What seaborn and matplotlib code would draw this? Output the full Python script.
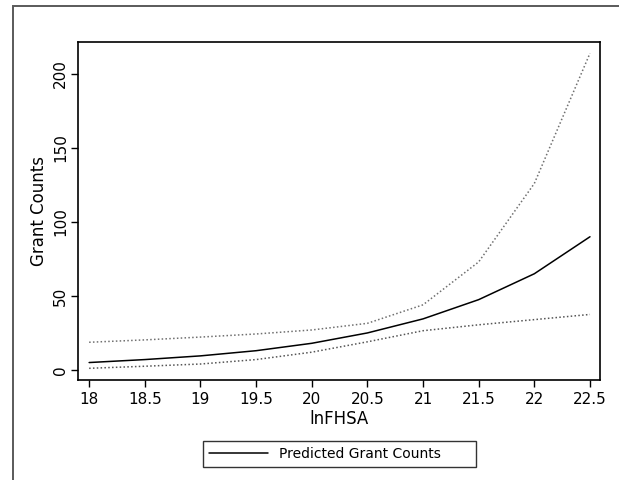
import matplotlib
matplotlib.use("Agg")
import matplotlib.pyplot as plt
import pandas as pd
import seaborn as sns
from matplotlib.lines import Line2D
from matplotlib.patches import Rectangle

# values
ln_fhsa = [18, 18.5, 19, 19.5, 20, 20.5, 21, 21.5, 22, 22.5]
predicted = [5, 7, 9.5, 13, 18, 25, 34.5, 47.5, 65, 90]
upper_ci = [18.7, 20.3, 22.2, 24.3, 27, 31.5, 44, 73, 126, 214]
lower_ci = [1.1, 2.5, 4, 7, 12, 19, 26.5, 30.5, 34, 37.5]

df = pd.DataFrame({"lnFHSA": ln_fhsa, "pred": predicted, "hi": upper_ci, "lo": lower_ci})

sns.set_style("white")
plt.rcParams["font.family"] = ["DejaVu Sans"]
plt.rcParams["text.color"] = "black"
plt.rcParams["axes.labelcolor"] = "black"
plt.rcParams["xtick.color"] = "black"
plt.rcParams["ytick.color"] = "black"

fig = plt.figure(figsize=(6.19, 4.80), dpi=100)
fig.patch.set_facecolor("white")

# outer graph region frame (runs off the right and bottom edges)
fig.add_artist(Rectangle((13 / 619, -0.1), 1.2, 1.1 - 6 / 480,
                         transform=fig.transFigure, fill=False,
                         edgecolor="#5a5a5a", linewidth=1.4))

ax = fig.add_axes([78 / 619, 1 - 380 / 480, 522 / 619, 338 / 480])

dot = (0, (1, 1.5))
sns.lineplot(data=df, x="lnFHSA", y="hi", ax=ax, color="#707070", linewidth=1.1, linestyle=dot)
sns.lineplot(data=df, x="lnFHSA", y="lo", ax=ax, color="#555555", linewidth=1.1, linestyle=dot)
sns.lineplot(data=df, x="lnFHSA", y="pred", ax=ax, color="black", linewidth=1.1)

ax.set_xlim(17.9, 22.59)
ax.set_ylim(-6.8, 221.6)
ax.set_xticks(ln_fhsa)
ax.set_xticklabels(["18", "18.5", "19", "19.5", "20", "20.5", "21", "21.5", "22", "22.5"])
ax.set_yticks([0, 50, 100, 150, 200])
ax.tick_params(axis="both", direction="out", length=5, width=1,
               labelsize=11, bottom=True, left=True)
ax.tick_params(axis="y", pad=2)
for lab in ax.get_yticklabels():
    lab.set_rotation(90)
    lab.set_va("center")

for side in ax.spines.values():
    side.set_color("black")
    side.set_linewidth(1.2)

ax.set_xlabel("lnFHSA", fontsize=12, labelpad=2)
ax.set_ylabel("Grant Counts", fontsize=12, labelpad=4)

handle = Line2D([], [], color="black", linewidth=1.1)
leg = ax.legend([handle], ["Predicted Grant Counts"], loc="center", mode="expand",
                bbox_to_anchor=(203 / 619, 11 / 480, 273 / 619, 30 / 480),
                bbox_transform=fig.transFigure,
                fontsize=10, frameon=True, fancybox=False, handlelength=4.2,
                handletextpad=0.8, borderpad=0.45, edgecolor="black", borderaxespad=0)
leg.get_frame().set_linewidth(1.0)

fig.savefig("out.png", dpi=100, facecolor="white")
